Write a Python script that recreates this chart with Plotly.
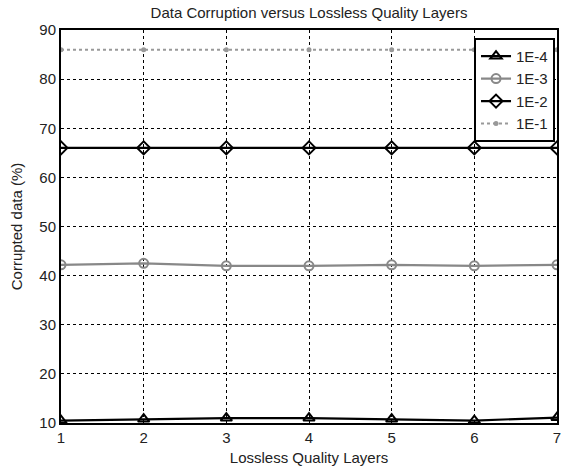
import plotly.graph_objects as go

layers = [1, 2, 3, 4, 5, 6, 7]
s_1e4 = [10.5, 10.8, 11.0, 11.0, 10.8, 10.5, 11.1]
s_1e3 = [42.2, 42.5, 42.0, 42.0, 42.2, 42.0, 42.2]
s_1e2 = [66, 66, 66, 66, 66, 66, 66]
s_1e1 = [86, 86, 86, 86, 86, 86, 86]

FONT = "Liberation Sans, Arial"

fig = go.Figure()
fig.add_trace(go.Scatter(x=layers, y=s_1e4, name="1E-4", mode="lines+markers",
                         line=dict(color="black", width=2.2),
                         marker=dict(symbol="triangle-up-open", size=10, color="black", line=dict(width=2))))
fig.add_trace(go.Scatter(x=layers, y=s_1e3, name="1E-3", mode="lines+markers",
                         line=dict(color="#888888", width=2.2),
                         marker=dict(symbol="circle-open", size=9, color="#888888", line=dict(width=2))))
fig.add_trace(go.Scatter(x=layers, y=s_1e2, name="1E-2", mode="lines+markers",
                         line=dict(color="black", width=2.2),
                         marker=dict(symbol="diamond-open", size=10, color="black", line=dict(width=2))))
fig.add_trace(go.Scatter(x=layers, y=s_1e1, name="1E-1", mode="lines+markers",
                         line=dict(color="#999999", width=2, dash="dot"),
                         marker=dict(symbol="circle", size=5, color="#999999")))

axis_common = dict(showgrid=True, gridcolor="black", griddash="dot", gridwidth=1,
                   showline=True, linecolor="black", linewidth=2, mirror=True,
                   ticks="", zeroline=False,
                   tickfont=dict(family=FONT, size=15, color="#222"))

fig.update_layout(
    width=567, height=470,
    margin=dict(l=61, r=6, t=30, b=46),
    paper_bgcolor="white", plot_bgcolor="white",
    title=dict(text="Data Corruption versus Lossless Quality Layers", x=0.545, xanchor="center",
               y=0.972, yanchor="middle",
               font=dict(family=FONT, size=15, color="#222")),
    xaxis=dict(range=[1, 7], tickvals=layers, title=dict(text="Lossless Quality Layers", standoff=7,
               font=dict(family=FONT, size=15, color="#222")), **axis_common),
    yaxis=dict(range=[10, 90], dtick=10, title=dict(text="Corrupted data (%)", standoff=13,
               font=dict(family=FONT, size=15, color="#222")), **axis_common),
    legend=dict(x=0.996, y=0.98, xanchor="right", yanchor="top", bgcolor="white",
                bordercolor="black", borderwidth=2, tracegroupgap=0, itemwidth=30,
                font=dict(family=FONT, size=15, color="#222")),
    showlegend=True,
)

fig.write_html("out.html")
